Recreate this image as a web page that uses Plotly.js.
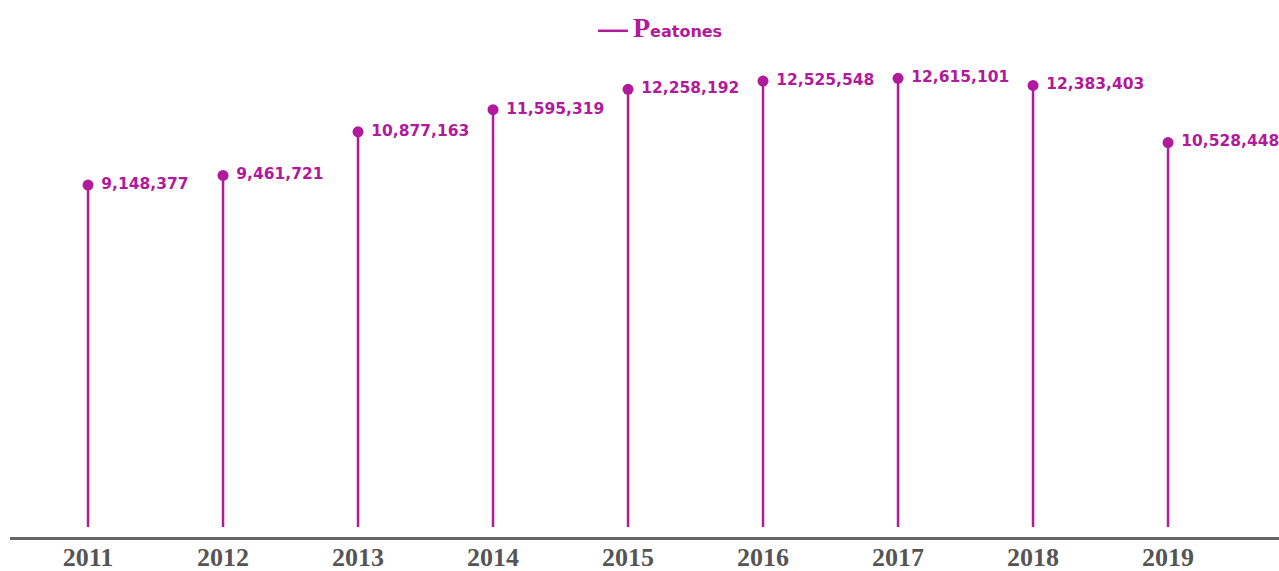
<!DOCTYPE html>
<html>
<head>
<meta charset="utf-8">
<script src="https://cdn.plot.ly/plotly-3.0.1.min.js"></script>
<style>html,body{margin:0;padding:0;background:#fff;}#chart{width:1279px;height:571px;}</style>
</head>
<body>
<div id="chart"></div>
<script>
const years = [2011, 2012, 2013, 2014, 2015, 2016, 2017, 2018, 2019];
const tickLabels = ["2011", "2012", "2013", "2014", "2015", "2016", "2017", "2018", "2019"];
const peatones = [9148377, 9461721, 10877163, 11595319, 12258192, 12525548, 12615101, 12383403, 10528448];
const seriesName = "Peatones";

const color = "#b01a9b";
const stemBase = -1960000;

// stems built from the data arrays
const stemX = [], stemY = [];
years.forEach((yr, i) => { stemX.push(yr, yr, null); stemY.push(stemBase, peatones[i], null); });

const traces = [
  {
    type: "scatter", mode: "lines", x: stemX, y: stemY,
    name: '<span style="font-family:\'Liberation Serif\',serif;font-size:28px;font-weight:bold">' + seriesName.charAt(0) + '</span>' + seriesName.slice(1),
    line: { color: color, width: 2.5 }, hoverinfo: "skip", showlegend: true
  },
  {
    type: "scatter", mode: "markers+text", x: years, y: peatones,
    name: seriesName, showlegend: false,
    marker: { color: color, size: 11 },
    texttemplate: " %{y:,}", textposition: "middle right",
    textfont: { family: "DejaVu Sans, sans-serif", size: 15.5, color: color, weight: 700 },
    cliponaxis: false, hoverinfo: "skip"
  }
];

const layout = {
  width: 1279, height: 571,
  margin: { l: 10, r: 0, t: 55, b: 34 },
  paper_bgcolor: "#fff", plot_bgcolor: "#fff",
  showlegend: true,
  legend: {
    orientation: "h", x: 0.4594, xanchor: "left", y: 1.05, yanchor: "middle",
    font: { family: "DejaVu Sans, sans-serif", size: 16, color: color, weight: 700 },
    bgcolor: "rgba(0,0,0,0)"
  },
  xaxis: {
    range: [2010.422, 2019.822], tickvals: years, ticktext: tickLabels,
    showgrid: false, zeroline: false, showline: true, linecolor: "#666", linewidth: 3,
    ticks: "", ticklen: 0, ticklabelstandoff: -5,
    tickfont: { family: "Liberation Serif, serif", size: 26, color: "#555", weight: 700 },
    fixedrange: true
  },
  yaxis: {
    range: [-2287000, 13373000], visible: false, showgrid: false, zeroline: false, fixedrange: true
  },
  hovermode: false
};

Plotly.newPlot("chart", traces, layout, { displayModeBar: false, staticPlot: true });
</script>
</body>
</html>
